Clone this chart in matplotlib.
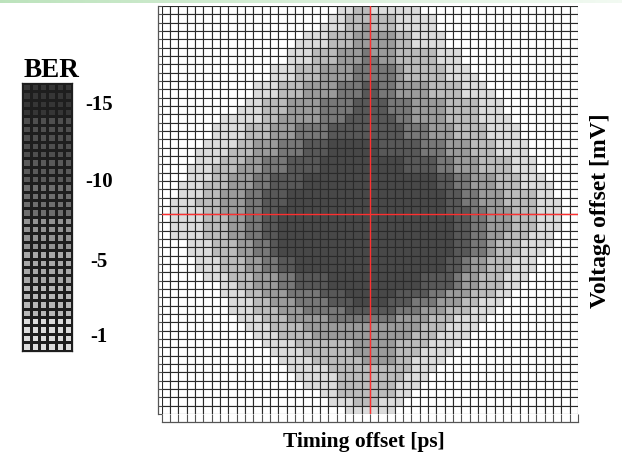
import numpy as np
import matplotlib
matplotlib.use("Agg")
import matplotlib.pyplot as plt
from matplotlib.colors import ListedColormap, BoundaryNorm
from matplotlib.transforms import blended_transform_factory

# ---------------- data ----------------
N_COLS = 50          # timing offset steps
N_ROWS = 49          # voltage offset steps
CENTER_COL = 25      # red cross (timing)
CENTER_ROW = 25      # red cross (voltage)

# BER level regions per row: (first column, end column exclusive); level 1 = lightest
RING1 = [(21, 31), (20, 33), (19, 33), (17, 34), (16, 34), (15, 36), (15, 36), (13, 37), (13, 38), (11, 39),
         (11, 40), (10, 41), (9, 41), (7, 42), (6, 43), (6, 43), (5, 44), (4, 44), (4, 45), (3, 45),
         (3, 46), (2, 47), (2, 47), (1, 48), (1, 48), (1, 48), (1, 48), (1, 47), (3, 47), (3, 46),
         (4, 45), (4, 45), (5, 44), (7, 43), (7, 42), (8, 41), (8, 40), (9, 39), (10, 38), (11, 37),
         (12, 36), (13, 35), (14, 34), (15, 33), (16, 32), (17, 31), (19, 30), (20, 29), (22, 28)]
RING2 = [(23, 25), (22, 28), (22, 28), (20, 30), (20, 30), (18, 33), (18, 33), (16, 34), (16, 34), (14, 36),
         (14, 36), (12, 38), (12, 38), (12, 38), (10, 39), (10, 39), (9, 40), (8, 40), (7, 42), (6, 42),
         (6, 43), (5, 43), (5, 45), (4, 45), (5, 45), (5, 45), (5, 45), (5, 44), (6, 43), (6, 43),
         (7, 42), (7, 42), (8, 41), (9, 41), (10, 40), (11, 38), (11, 37), (12, 35), (13, 34), (14, 33),
         (16, 32), (17, 31), (18, 30), (20, 30), (21, 29), (21, 28), (21, 28), (23, 26), (0, 0)]
RING3 = [(0, 0), (0, 0), (24, 25), (23, 28), (23, 28), (21, 28), (21, 28), (19, 29), (19, 29), (17, 32),
         (17, 32), (15, 34), (15, 34), (14, 34), (13, 35), (13, 35), (11, 37), (11, 37), (10, 38), (9, 38),
         (8, 40), (8, 40), (7, 41), (7, 41), (7, 42), (8, 42), (8, 42), (8, 41), (9, 40), (9, 40),
         (10, 39), (10, 39), (11, 38), (11, 38), (12, 37), (13, 36), (14, 34), (15, 32), (17, 31), (18, 30),
         (23, 28), (23, 28), (24, 28), (0, 0), (0, 0), (0, 0), (0, 0), (0, 0), (0, 0)]
RING4 = [(0, 0), (0, 0), (0, 0), (0, 0), (0, 0), (24, 25), (24, 26), (23, 28), (23, 28), (21, 28),
         (21, 28), (19, 30), (19, 30), (19, 30), (16, 32), (16, 32), (14, 34), (14, 34), (12, 35), (12, 35),
         (11, 37), (11, 37), (10, 38), (10, 38), (10, 39), (10, 39), (10, 39), (10, 39), (11, 39), (11, 39),
         (12, 37), (12, 37), (14, 36), (14, 36), (15, 34), (16, 33), (17, 31), (20, 28), (0, 0), (0, 0),
         (0, 0), (0, 0), (0, 0), (0, 0), (0, 0), (0, 0), (0, 0), (0, 0), (0, 0)]
RING5 = [(0, 0), (0, 0), (0, 0), (0, 0), (0, 0), (0, 0), (0, 0), (0, 0), (0, 0), (24, 26),
         (24, 26), (23, 27), (23, 27), (22, 28), (20, 29), (20, 29), (17, 31), (17, 31), (15, 33), (15, 33),
         (13, 35), (13, 35), (12, 36), (12, 36), (12, 37), (12, 37), (12, 37), (12, 37), (13, 37), (13, 37),
         (14, 36), (14, 36), (16, 35), (16, 35), (19, 32), (20, 30), (22, 28), (0, 0), (0, 0), (0, 0),
         (0, 0), (0, 0), (0, 0), (0, 0), (0, 0), (0, 0), (0, 0), (0, 0), (0, 0)]
RING6 = [(0, 0), (0, 0), (0, 0), (0, 0), (0, 0), (0, 0), (0, 0), (0, 0), (0, 0), (0, 0),
         (0, 0), (0, 0), (0, 0), (0, 0), (0, 0), (0, 0), (20, 26), (20, 26), (19, 29), (19, 29),
         (17, 33), (17, 33), (15, 34), (15, 34), (14, 34), (14, 35), (14, 35), (14, 35), (14, 35), (14, 35),
         (16, 34), (16, 34), (20, 31), (20, 31), (22, 28), (23, 27), (0, 0), (0, 0), (0, 0), (0, 0),
         (0, 0), (0, 0), (0, 0), (0, 0), (0, 0), (0, 0), (0, 0), (0, 0), (0, 0)]

GRID_SHADES = ["#ffffff", "#dcdcdc", "#bbbbbb", "#9b9b9b", "#787878", "#585858", "#484848"]

# colour bar (top = best BER)
CB_SHADES = ["#363636", "#4f4f4f", "#5a5a5a", "#6e6e6e", "#939393", "#a8a8a8", "#b7b7b7", "#dcdcdc"]
CB_ROW_LEVEL = [0, 0, 0, 0, 1, 1, 1, 1, 1, 2, 2, 2, 3, 3, 3, 3,
                4, 4, 4, 4, 5, 5, 5, 5, 6, 6, 6, 6, 7, 7, 7, 7]
CB_COLS = 6
CB_LABELS = ["-15", "-10", "-5", "-1"]
CB_LABEL_ROWS = [3.1, 12.3, 21.9, 30.9]   # baseline position in colour-bar rows

X_LABEL = "Timing offset [ps]"
Y_LABEL = "Voltage offset [mV]"
CB_TITLE = "BER"

# ---------------- build the level map ----------------
z = np.zeros((N_ROWS, N_COLS))
for lvl, ring in enumerate([RING1, RING2, RING3, RING4, RING5, RING6], start=1):
    for r, (s, e) in enumerate(ring):
        if e > s:
            z[r, s:e] = np.maximum(z[r, s:e], lvl)

W, H = 622, 456
fig = plt.figure(figsize=(W / 100, H / 100), dpi=100)
fig.patch.set_facecolor("white")

# green header strip
hdr = fig.add_axes([0, 1 - 3.5 / H, 1, 3.5 / H])
grad = np.linspace(0, 1, 256)[None, :, None]
c0 = np.array([0.74, 0.89, 0.74])
c1 = np.array([0.95, 0.98, 0.95])
hdr.imshow(c0 + (c1 - c0) * grad, aspect="auto", extent=[0, 1, 0, 1])
hdr.axis("off")

FONT = ["Liberation Serif", "DejaVu Serif"]

# main grid
gx0, gx1, gy0, gy1 = 161.7, 578.0, 7.0, 415.0
ax = fig.add_axes([gx0 / W, 1 - gy1 / H, (gx1 - gx0) / W, (gy1 - gy0) / H])
cmap = ListedColormap(GRID_SHADES)
norm = BoundaryNorm(np.arange(-0.5, len(GRID_SHADES) + 0.5, 1), cmap.N)
ax.pcolormesh(np.arange(N_COLS + 1), np.arange(N_ROWS + 1), z, cmap=cmap, norm=norm,
              edgecolors="#2a2a2a", linewidth=0.8, antialiased=True)
ax.set_xlim(0, N_COLS)
ax.set_ylim(N_ROWS, 0)
ax.axvline(CENTER_COL, color="#ff3030", lw=1.0, zorder=5)
ax.axhline(CENTER_ROW, color="#ff3030", lw=1.0, zorder=5)
for s in ["top", "right"]:
    ax.spines[s].set_visible(False)
ax.spines["left"].set_position(("outward", 3))
ax.spines["bottom"].set_position(("outward", 5.5))
ax.spines["left"].set_color("#555555")
ax.spines["bottom"].set_color("#555555")
ax.spines["left"].set_linewidth(0.9)
ax.spines["bottom"].set_linewidth(0.9)
ax.set_xticks(np.arange(0, N_COLS + 1))
ax.set_yticks(np.arange(0, N_ROWS + 1))
ax.tick_params(axis="y", direction="in", length=3, width=0.8, color="#555555", labelleft=False)
ax.tick_params(axis="x", direction="in", length=5.5, width=0.8, color="#555555", labelbottom=False)

fig.text(363.5 / W, 1 - 447 / H, X_LABEL, ha="center", va="baseline",
         fontsize=15.5, fontweight="bold", family=FONT)
fig.text(600.5 / W, 1 - 211 / H, Y_LABEL, ha="center", va="center", rotation=90,
         fontsize=17, fontweight="bold", family=FONT)

# colour bar
cx0, cx1, cy0, cy1 = 22.3, 72.3, 84.0, 351.5
cax = fig.add_axes([cx0 / W, 1 - cy1 / H, (cx1 - cx0) / W, (cy1 - cy0) / H])
cb = np.repeat(np.array(CB_ROW_LEVEL)[:, None], CB_COLS, axis=1)
cb_cmap = ListedColormap(CB_SHADES)
cb_norm = BoundaryNorm(np.arange(-0.5, len(CB_SHADES) + 0.5, 1), cb_cmap.N)
cax.pcolormesh(np.arange(CB_COLS + 1), np.arange(len(CB_ROW_LEVEL) + 1), cb, cmap=cb_cmap,
               norm=cb_norm, edgecolors="#1e1e1e", linewidth=0.75)
cax.set_xlim(0, CB_COLS)
cax.set_ylim(len(CB_ROW_LEVEL), 0)
cax.set_xticks([])
cax.set_yticks([])
for s in cax.spines.values():
    s.set_color("#1e1e1e")
    s.set_linewidth(0.9)
tr = blended_transform_factory(cax.transAxes, cax.transData)
lab_x = (99 - cx0) / (cx1 - cx0)
for lab, row in zip(CB_LABELS, CB_LABEL_ROWS):
    cax.text(lab_x, row, lab, transform=tr, ha="center", va="baseline",
             fontsize=15, fontweight="bold", family=FONT)
fig.text(52 / W, 1 - 77 / H, CB_TITLE, ha="center", va="baseline",
         fontsize=19.5, fontweight="bold", family=FONT)

fig.savefig("out.png", dpi=100)
